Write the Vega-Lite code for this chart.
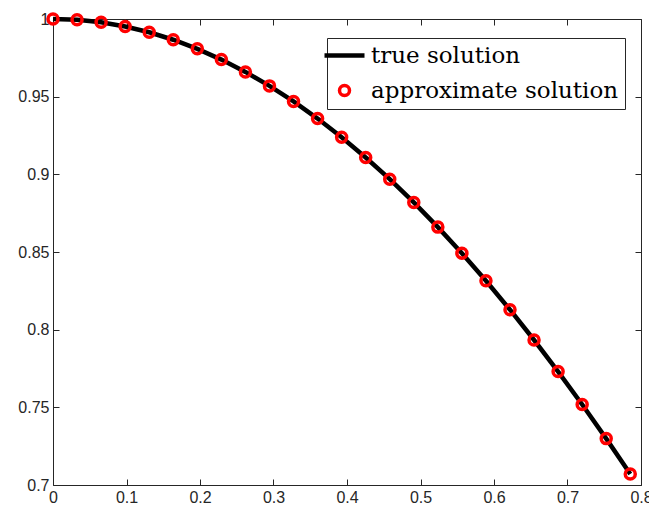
{
  "$schema": "https://vega.github.io/schema/vega-lite/v6.json",
  "width": 588,
  "height": 466,
  "autosize": {"type": "none"},
  "padding": {"left": 53, "top": 19, "right": 8, "bottom": 26},
  "background": "white",
  "config": {
    "view": {"stroke": null},
    "axis": {
      "labelFont": "Liberation Sans",
      "labelFontSize": 16,
      "labelColor": "#262626",
      "domainColor": "#262626",
      "tickColor": "#262626",
      "grid": false,
      "title": null
    }
  },
  "datasets": {
    "pts": [
      {"x": 0.000000, "y": 1.000000, "series": "approximate solution"},
      {"x": 0.032725, "y": 0.999465, "series": "approximate solution"},
      {"x": 0.065450, "y": 0.997859, "series": "approximate solution"},
      {"x": 0.098175, "y": 0.995185, "series": "approximate solution"},
      {"x": 0.130900, "y": 0.991445, "series": "approximate solution"},
      {"x": 0.163625, "y": 0.986643, "series": "approximate solution"},
      {"x": 0.196350, "y": 0.980785, "series": "approximate solution"},
      {"x": 0.229074, "y": 0.973877, "series": "approximate solution"},
      {"x": 0.261799, "y": 0.965926, "series": "approximate solution"},
      {"x": 0.294524, "y": 0.956940, "series": "approximate solution"},
      {"x": 0.327249, "y": 0.946930, "series": "approximate solution"},
      {"x": 0.359974, "y": 0.935897, "series": "approximate solution"},
      {"x": 0.392699, "y": 0.923880, "series": "approximate solution"},
      {"x": 0.425424, "y": 0.910864, "series": "approximate solution"},
      {"x": 0.458149, "y": 0.896873, "series": "approximate solution"},
      {"x": 0.490874, "y": 0.881921, "series": "approximate solution"},
      {"x": 0.523599, "y": 0.866025, "series": "approximate solution"},
      {"x": 0.556324, "y": 0.849202, "series": "approximate solution"},
      {"x": 0.589049, "y": 0.831470, "series": "approximate solution"},
      {"x": 0.621774, "y": 0.812847, "series": "approximate solution"},
      {"x": 0.654498, "y": 0.793353, "series": "approximate solution"},
      {"x": 0.687223, "y": 0.773010, "series": "approximate solution"},
      {"x": 0.719948, "y": 0.751840, "series": "approximate solution"},
      {"x": 0.752673, "y": 0.729864, "series": "approximate solution"},
      {"x": 0.785398, "y": 0.707107, "series": "approximate solution"}
    ],
    "truth": [
      {"x": 0.000000, "y": 1.000000, "series": "true solution"},
      {"x": 0.032725, "y": 0.999465, "series": "true solution"},
      {"x": 0.065450, "y": 0.997859, "series": "true solution"},
      {"x": 0.098175, "y": 0.995185, "series": "true solution"},
      {"x": 0.130900, "y": 0.991445, "series": "true solution"},
      {"x": 0.163625, "y": 0.986643, "series": "true solution"},
      {"x": 0.196350, "y": 0.980785, "series": "true solution"},
      {"x": 0.229074, "y": 0.973877, "series": "true solution"},
      {"x": 0.261799, "y": 0.965926, "series": "true solution"},
      {"x": 0.294524, "y": 0.956940, "series": "true solution"},
      {"x": 0.327249, "y": 0.946930, "series": "true solution"},
      {"x": 0.359974, "y": 0.935897, "series": "true solution"},
      {"x": 0.392699, "y": 0.923880, "series": "true solution"},
      {"x": 0.425424, "y": 0.910864, "series": "true solution"},
      {"x": 0.458149, "y": 0.896873, "series": "true solution"},
      {"x": 0.490874, "y": 0.881921, "series": "true solution"},
      {"x": 0.523599, "y": 0.866025, "series": "true solution"},
      {"x": 0.556324, "y": 0.849202, "series": "true solution"},
      {"x": 0.589049, "y": 0.831470, "series": "true solution"},
      {"x": 0.621774, "y": 0.812847, "series": "true solution"},
      {"x": 0.654498, "y": 0.793353, "series": "true solution"},
      {"x": 0.687223, "y": 0.773010, "series": "true solution"},
      {"x": 0.719948, "y": 0.751840, "series": "true solution"},
      {"x": 0.752673, "y": 0.729864, "series": "true solution"},
      {"x": 0.785398, "y": 0.707107, "series": "true solution"}
    ]
  },
  "layer": [
    {
      "data": {"name": "truth"},
      "mark": {"type": "line", "strokeWidth": 4.5, "color": "black"},
      "encoding": {
        "x": {"field": "x", "type": "quantitative",
              "scale": {"domain": [0, 0.8], "nice": false, "zero": false},
              "axis": {"orient": "bottom", "values": [0, 0.1, 0.2, 0.3, 0.4, 0.5, 0.6, 0.7, 0.8], "format": "~g", "tickSize": -6, "labelPadding": 10, "labelFlush": false}},
        "y": {"field": "y", "type": "quantitative",
              "scale": {"domain": [0.7, 1], "nice": false, "zero": false},
              "axis": {"orient": "left", "values": [0.7, 0.75, 0.8, 0.85, 0.9, 0.95, 1], "format": "~g", "tickSize": -6, "labelPadding": 10, "labelFlush": false}},
        "color": {"field": "series", "type": "nominal",
                  "scale": {"domain": ["true solution", "approximate solution"], "range": ["black", "red"]},
                  "legend": {
                    "title": null,
                    "orient": "none",
                    "legendX": 274,
                    "legendY": 19,
                    "labelFont": "DejaVu Serif",
                    "labelFontSize": 23,
                    "labelColor": "black",
                    "labelLimit": 400,
                    "strokeColor": "#262626",
                    "fillColor": "white",
                    "padding": 6,
                    "rowPadding": 10,
                    "labelOffset": 15,
                    "symbolSize": 1600,
                    "encode": {
                      "symbols": {
                        "update": {
                          "shape": {"signal": "datum.value === 'true solution' ? 'stroke' : 'circle'"},
                          "size": {"signal": "datum.value === 'true solution' ? 1600 : 100"},
                          "strokeWidth": {"signal": "datum.value === 'true solution' ? 4.5 : 3.5"},
                          "fill": {"value": "transparent"},
                          "opacity": {"value": 1}
                        }
                      }
                    }
                  }}
      }
    },
    {
      "data": {"name": "pts"},
      "mark": {"type": "point", "shape": "circle", "filled": false, "size": 100, "strokeWidth": 3.5, "opacity": 1},
      "encoding": {
        "x": {"field": "x", "type": "quantitative",
              "axis": {"orient": "top", "values": [0, 0.1, 0.2, 0.3, 0.4, 0.5, 0.6, 0.7, 0.8], "labels": false, "tickSize": -6}},
        "y": {"field": "y", "type": "quantitative",
              "axis": {"orient": "right", "values": [0.7, 0.75, 0.8, 0.85, 0.9, 0.95, 1], "labels": false, "tickSize": -6}},
        "color": {"field": "series", "type": "nominal"}
      }
    }
  ],
  "resolve": {"axis": {"x": "independent", "y": "independent"}}
}
